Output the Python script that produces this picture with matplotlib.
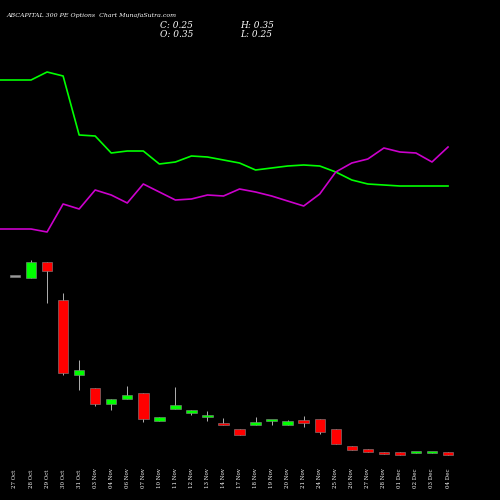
import matplotlib.pyplot as plt
import matplotlib.transforms as mtrans

dates = ["27 Oct", "28 Oct", "29 Oct", "30 Oct", "31 Oct", "03 Nov", "04 Nov", "06 Nov",
         "07 Nov", "10 Nov", "11 Nov", "12 Nov", "13 Nov", "14 Nov", "17 Nov", "18 Nov",
         "19 Nov", "20 Nov", "21 Nov", "24 Nov", "25 Nov", "26 Nov", "27 Nov", "28 Nov",
         "01 Dec", "02 Dec", "03 Dec", "04 Dec"]

opens = [6.12, 6.09, 6.61, 5.38, 2.89, 2.47, 1.94, 2.11, 2.31, 1.37, 1.77, 1.64, 1.51, 1.32,
         1.12, 1.25, 1.38, 1.25, 1.42, 1.45, 1.12, 0.54, 0.45, 0.35, 0.35, 0.32, 0.32, 0.35]
closes = [6.12, 6.61, 6.31, 2.97, 3.06, 1.94, 2.11, 2.24, 1.45, 1.51, 1.90, 1.74, 1.54, 1.25,
          0.92, 1.35, 1.41, 1.38, 1.32, 1.02, 0.62, 0.41, 0.35, 0.28, 0.25, 0.35, 0.35, 0.25]
highs = [6.12, 6.68, 6.61, 5.61, 3.39, 2.47, 2.11, 2.54, 2.31, 1.51, 2.50, 1.74, 1.71, 1.48,
         1.12, 1.51, 1.41, 1.42, 1.55, 1.45, 1.12, 0.54, 0.45, 0.35, 0.35, 0.35, 0.35, 0.35]
lows = [6.12, 6.09, 5.28, 2.90, 2.40, 1.88, 1.74, 2.11, 1.35, 1.37, 1.77, 1.58, 1.38, 1.25,
        0.92, 1.25, 1.25, 1.25, 1.19, 0.95, 0.62, 0.41, 0.35, 0.28, 0.25, 0.32, 0.32, 0.25]

green_line = [84, 84, 85.6, 84.8, 73, 72.8, 69.4, 69.8, 69.8, 67.2, 67.6, 68.8, 68.6, 68,
              67.4, 66, 66.4, 66.8, 67, 66.8, 65.6, 64, 63.2, 63, 62.8, 62.8, 62.8, 62.8]
purple_line = [54.2, 54.2, 53.6, 59.2, 58.2, 62, 61, 59.4, 63.2, 61.6, 60, 60.2, 61, 60.8,
               62.2, 61.6, 60.8, 59.8, 58.8, 61.2, 65.6, 67.4, 68.2, 70.4, 69.6, 69.4, 67.6, 70.6]

fig = plt.figure(figsize=(5, 5), dpi=100, facecolor="black")
ax = fig.add_axes([0, 0, 1, 1], facecolor="black")
ax.set_xlim(-0.935, 30.24)
ax.set_ylim(-1.235, 15.27)
ax.axis("off")

for i in range(len(dates)):
    o, c, h, l = opens[i], closes[i], highs[i], lows[i]
    if c > o:
        col = "#00ff00"
    elif c < o:
        col = "#ff0000"
    else:
        col = "#999999"
    ax.vlines(i, l, h, color="#cccccc" if col != "#999999" else col, linewidth=0.6, zorder=2)
    bot = min(o, c)
    height = max(abs(c - o), 0.06)
    ax.bar(i, height, bottom=bot, width=0.65, color=col, edgecolor="#888888",
           linewidth=0.4, zorder=3)

ax2 = fig.add_axes([0, 0, 1, 1], facecolor="none")
ax2.set_xlim(-0.935, 30.24)
ax2.set_ylim(0, 100)
ax2.axis("off")
gx = [-0.935] + list(range(len(dates)))
ax2.plot(gx, [green_line[0]] + green_line, color="#00ff00", linewidth=1.2)
ax2.plot(gx, [purple_line[0]] + purple_line, color="#cc00cc", linewidth=1.2)

trans = mtrans.blended_transform_factory(ax.transData, ax.transAxes)
for i, d in enumerate(dates):
    ax.text(i, 0.025, d, transform=trans, rotation=90, color="white", fontsize=4,
            family="DejaVu Serif", ha="center", va="bottom")

fig.text(0.012, 0.965, "ABCAPITAL 300 PE Options  Chart MunafaSutra.com", color="white",
         fontsize=4.5, family="DejaVu Serif", style="italic")
fig.text(0.32, 0.943, "C: 0.25", color="white", fontsize=6.5, family="DejaVu Serif", style="italic")
fig.text(0.32, 0.926, "O: 0.35", color="white", fontsize=6.5, family="DejaVu Serif", style="italic")
fig.text(0.48, 0.943, "H: 0.35", color="white", fontsize=6.5, family="DejaVu Serif", style="italic")
fig.text(0.48, 0.926, "L: 0.25", color="white", fontsize=6.5, family="DejaVu Serif", style="italic")

fig.savefig("out.png", dpi=100, facecolor="black")
